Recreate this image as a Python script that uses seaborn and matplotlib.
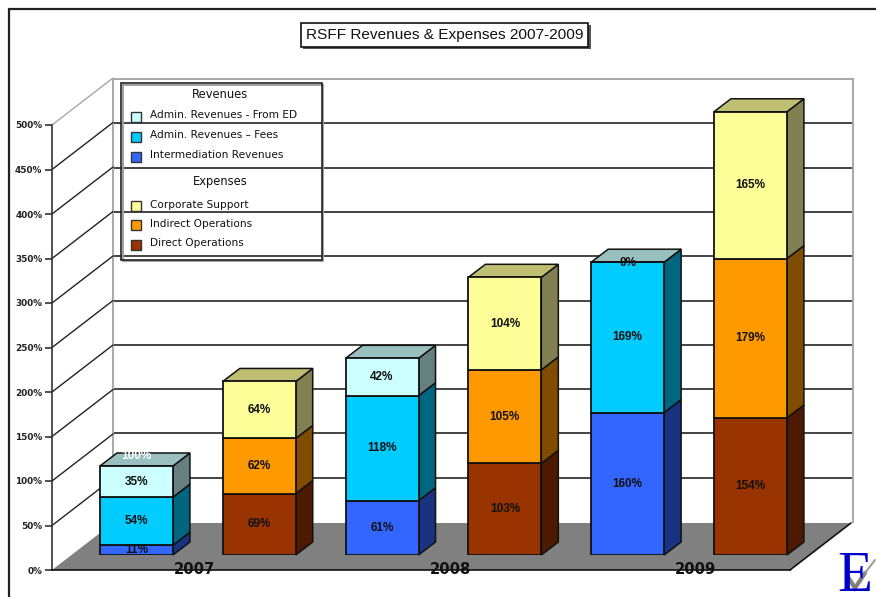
import matplotlib
matplotlib.use("Agg")
import matplotlib.pyplot as plt
from matplotlib.patches import Polygon, Rectangle
import pandas as pd
import seaborn as sns

# ---------- data ----------
columns = ["2007 Revenues", "2007 Expenses", "2008 Revenues", "2008 Expenses", "2009 Revenues", "2009 Expenses"]
years = ["2007", "2008", "2009"]
series_names = ["Intermediation Revenues", "Admin. Revenues - Fees", "Admin. Revenues - From ED",
                "Direct Operations", "Indirect Operations", "Corporate Support"]
intermediation = [11, 0, 61, 0, 160, 0]
admin_fees = [54, 0, 118, 0, 169, 0]
admin_ed = [35, 0, 42, 0, 0, 0]
direct_ops = [0, 69, 0, 103, 0, 154]
indirect_ops = [0, 62, 0, 105, 0, 179]
corporate = [0, 64, 0, 104, 0, 165]
ytick_values = [0, 50, 100, 150, 200, 250, 300, 350, 400, 450, 500]
legend_revenues = ["Admin. Revenues - From ED", "Admin. Revenues \u2013 Fees", "Intermediation Revenues"]
legend_expenses = ["Corporate Support", "Indirect Operations", "Direct Operations"]
total_note_label = "100%"

# ---------- style ----------
W, H = 876, 597
FONT = "Liberation Sans"
WIDE = "DejaVu Sans"
sns.set_theme(style="white")
plt.rcParams["font.family"] = [FONT, "DejaVu Sans"]

FRONT = {"Intermediation Revenues": "#3366FF", "Admin. Revenues - Fees": "#00CCFF",
         "Admin. Revenues - From ED": "#CCFFFF", "Direct Operations": "#993300",
         "Indirect Operations": "#FF9900", "Corporate Support": "#FFFF99"}
SIDE = {"#3366FF": "#1A3380", "#00CCFF": "#006680", "#CCFFFF": "#668080",
        "#993300": "#4D1A00", "#FF9900": "#804D00", "#FFFF99": "#808050"}
TOP = {"#3366FF": "#264DBF", "#00CCFF": "#0099BF", "#CCFFFF": "#99BFBF",
       "#993300": "#732600", "#FF9900": "#BF7300", "#FFFF99": "#BFBF73"}


def axes_px(x0, y_top, x1, y_bot):
    return [x0 / W, 1 - y_bot / H, (x1 - x0) / W, (y_bot - y_top) / H]


fig = plt.figure(figsize=(W / 100, H / 100), dpi=100, facecolor="white")

# back wall with gridlines
ax_back = fig.add_axes(axes_px(113, 79, 853, 522), zorder=1)
ax_back.set_ylim(0, 500)
ax_back.set_xlim(0, 1)
ax_back.set_xticks([])
ax_back.set_yticks(ytick_values[1:-1])
ax_back.tick_params(left=False, labelleft=False)
ax_back.grid(axis="y", color="#111111", lw=1.1)
ax_back.set_axisbelow(True)
for s in ax_back.spines.values():
    s.set_color("#A8A8A8")
    s.set_linewidth(1.4)
ax_back.spines["bottom"].set_visible(False)

# front plane: value axis, floor and wall diagonals
ax_front = fig.add_axes(axes_px(52, 125, 790, 570), zorder=2)
ax_front.patch.set_alpha(0)
ax_front.set_ylim(0, 500)
ax_front.set_xlim(0, 1)
ax_front.set_xticks([])
ax_front.set_yticks(ytick_values)
ax_front.set_yticklabels([f"{v}%" for v in ytick_values], fontsize=6.4, fontweight="bold", family=WIDE)
ax_front.tick_params(axis="y", left=True, length=5, width=1.1, color="#222222", pad=2, labelcolor="#222222")
for k in ["top", "right"]:
    ax_front.spines[k].set_visible(False)
ax_front.spines["left"].set_color("#333333")
ax_front.spines["bottom"].set_color("#111111")
for k in ["left", "bottom"]:
    ax_front.spines[k].set_linewidth(1.2)

DX = 61 / 738
DY = 47 / 445 * 500
ax_front.add_patch(Polygon([(0, 0), (DX, DY), (1 + DX, DY), (1, 0)], closed=True, facecolor="#808080",
                           edgecolor="none", clip_on=False, zorder=1))
ax_front.plot([1, 1 + DX], [0, DY], color="#111111", lw=1.2, clip_on=False, zorder=2)
for v in ytick_values[1:]:
    c = "#A8A8A8" if v == 500 else "#222222"
    ax_front.plot([0, DX], [v, v + DY], color=c, lw=1.0, clip_on=False, zorder=2)

# bars plane
ax = fig.add_axes(axes_px(72, 110, 810, 555), zorder=3)
ax.patch.set_alpha(0)

df = pd.DataFrame({"column": columns, "Intermediation Revenues": intermediation,
                   "Admin. Revenues - Fees": admin_fees, "Admin. Revenues - From ED": admin_ed,
                   "Direct Operations": direct_ops, "Indirect Operations": indirect_ops,
                   "Corporate Support": corporate})
long = df.melt(id_vars="column", var_name="series", value_name="value")
long = long[((long["column"].str.endswith("Revenues")) & (long["series"].isin(series_names[:3]))) |
            ((long["column"].str.endswith("Expenses")) & (long["series"].isin(series_names[3:])))]

bottoms = {c: 0 for c in columns}
for name in series_names:
    sub = long[long["series"] == name]
    bot = [bottoms[c] for c in sub["column"]]
    sns.barplot(data=sub, x="column", y="value", order=columns, color=FRONT[name], saturation=1,
                width=0.594, bottom=bot, ax=ax, edgecolor="#111111", linewidth=1.3, errorbar=None, zorder=5)
    for c, v in zip(sub["column"], sub["value"]):
        bottoms[c] += v

ax.set_xlim(-0.525, 5.485)
ax.set_ylim(0, 500)
ax.set_yticks([])
ax.set_xlabel("")
ax.set_ylabel("")
for s in ax.spines.values():
    s.set_visible(False)
ax.set_xticks([0.47, 2.56, 4.55])
ax.set_xticklabels(years, fontsize=10.6, fontweight="bold", color="#111111", family=WIDE)
ax.tick_params(axis="x", length=0, pad=5)

# extruded faces derived from each drawn bar
px_x = 738 / 6.01
px_y = 445 / 500
ex, ey = 17 / px_x, 13 / px_y
rects = [p for p in ax.patches if isinstance(p, Rectangle) and p.get_width() > 0]
tops = {}
for p in rects:
    x0, w, y0, h = p.get_x(), p.get_width(), p.get_y(), p.get_height()
    col = matplotlib.colors.to_hex(p.get_facecolor()).upper()
    x1 = x0 + w
    ax.add_patch(Polygon([(x1, y0), (x1 + ex, y0 + ey), (x1 + ex, y0 + h + ey), (x1, y0 + h)], closed=True,
                         facecolor=SIDE[col], edgecolor="#111111", lw=1.1, clip_on=False, zorder=4))
    key = round(x0, 3)
    if key not in tops or y0 + h >= tops[key][0]:
        tops[key] = (y0 + h, x0, x1, col)
    if h > 0:
        ax.text(x0 + w / 2, y0 + h / 2, f"{h:.0f}%", ha="center", va="center", fontsize=8.5,
                fontweight="bold", color="#111111", zorder=8)
for top, x0, x1, col in tops.values():
    ax.add_patch(Polygon([(x0, top), (x0 + ex, top + ey), (x1 + ex, top + ey), (x1, top)], closed=True,
                         facecolor=TOP[col], edgecolor="#111111", lw=1.1, clip_on=False, zorder=4))

# the two labels that sit at the top of a stack
ax.text(0, 100 + 11, total_note_label, ha="center", va="center", fontsize=8.5, fontweight="bold",
        color="white", zorder=8)
ax.text(4, 328, f"{admin_ed[4]}%", ha="center", va="center", fontsize=8.5, fontweight="bold",
        color="#111111", zorder=8)

# page overlay in pixel coordinates: frame, title, legend and logo
ov = fig.add_axes([0, 0, 1, 1], zorder=5)
ov.set_xlim(0, W)
ov.set_ylim(H, 0)
ov.axis("off")
ov.patch.set_alpha(0)

ov.plot([8.5, 8.5, W], [H, 9, 9], color="#222222", lw=1.6, solid_joinstyle="miter")

ov.add_patch(Rectangle((303, 25), 288, 24, facecolor="#555555", edgecolor="none"))
ov.add_patch(Rectangle((301, 23), 287, 24, facecolor="white", edgecolor="#111111", lw=1.2))
ov.text(444.5, 35.5, "RSFF Revenues & Expenses 2007-2009", ha="center", va="center", fontsize=11.1, color="#111111")

ov.add_patch(Rectangle((122.5, 84.5), 200, 176, fill=False, edgecolor="#A0A0A0", lw=1.4))
ov.add_patch(Rectangle((121, 83), 201, 177, fill=False, edgecolor="#222222", lw=1.2))
LG = 7.6
ov.text(220, 94, "Revenues", ha="center", va="center", fontsize=8.3, family=WIDE, color="#111111")
ov.text(220, 181, "Expenses", ha="center", va="center", fontsize=8.3, family=WIDE, color="#111111")
for label, name, sy, ty in zip(legend_revenues + legend_expenses,
                               ["Admin. Revenues - From ED", "Admin. Revenues - Fees", "Intermediation Revenues",
                                "Corporate Support", "Indirect Operations", "Direct Operations"],
                               [117, 137, 157, 206, 225, 245], [114.5, 135, 155, 205, 224, 243]):
    ov.add_patch(Rectangle((131, sy - 5), 10, 10, facecolor=FRONT[name], edgecolor="#333333", lw=1.0))
    ov.text(150, ty, label, ha="left", va="center", fontsize=LG, family=WIDE, color="#111111")

ov.text(855, 591, "E", ha="center", va="baseline", fontsize=41, family="Liberation Serif", color="#0000CC")
ov.plot([848, 855, 865], [577, 588, 573], color="#808080", lw=3.0, solid_joinstyle="miter")
ov.plot([865, 875], [573, 560], color="#9A9A9A", lw=1.4)

fig.savefig("out.png", dpi=100)
